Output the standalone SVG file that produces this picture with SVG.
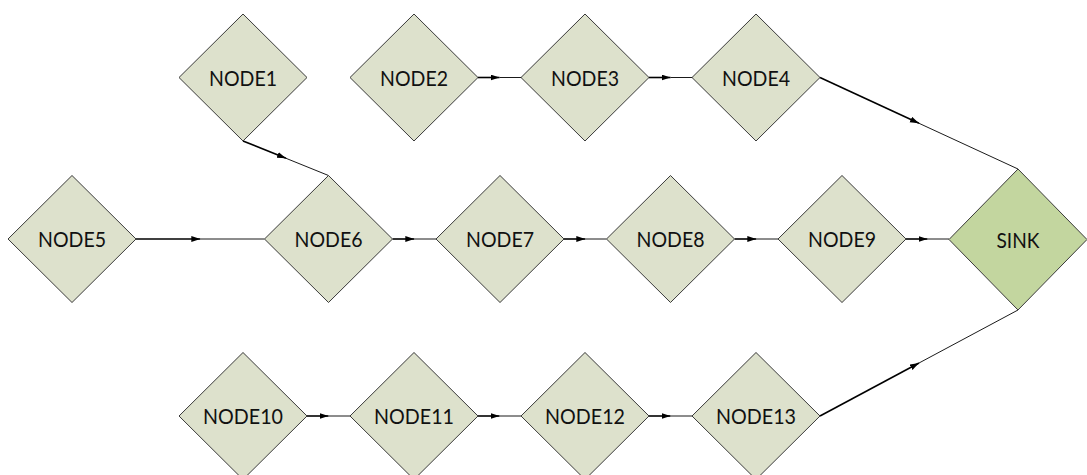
<svg xmlns="http://www.w3.org/2000/svg" xmlns:xlink="http://www.w3.org/1999/xlink" width="1087" height="475" viewBox="0 0 1087 475">
  <style>
    .node { fill: #dde1cc; stroke: #3a3a3a; stroke-width: 1; }
    .sink { fill: #c3d69f; stroke: #3a3a3a; stroke-width: 1; }
    .label { font-family: Lato, "Open Sans", "Liberation Sans", sans-serif; font-size: 21px; fill: #111; text-anchor: middle; }
    .head { fill: none; stroke: #000; stroke-width: 1.6; marker-end: url(#arrow); }
    .tail { fill: none; stroke: #000; stroke-width: 0.9; }
  </style>
  <defs>
    <!-- standard diamond, centred on the origin -->
    <polygon id="dia" points="0,-63.5 64,0 0,63.5 -64,0"/>
    <marker id="arrow" markerUnits="userSpaceOnUse" markerWidth="10" markerHeight="7" refX="9" refY="3" orient="auto">
      <path d="M0,0 L9,3 L0,6 z" fill="#000"/>
    </marker>
  </defs>
  <rect width="1087" height="475" fill="#fff"/>

  <!-- connectors: heavy first half ending in an arrowhead, light second half -->
  <g id="connectors">
    <!-- NODE1 -> NODE6 -->
    <line class="head" x1="243" y1="141" x2="286" y2="158.3"/>
    <line class="tail" x1="286" y1="158.3" x2="328.5" y2="175.5"/>
    <!-- NODE2 -> NODE3 -->
    <line class="head" x1="478" y1="77.5" x2="499.5" y2="77.5"/>
    <line class="tail" x1="499.5" y1="77.5" x2="521" y2="77.5"/>
    <!-- NODE3 -> NODE4 -->
    <line class="head" x1="649" y1="77.5" x2="670.5" y2="77.5"/>
    <line class="tail" x1="670.5" y1="77.5" x2="692" y2="77.5"/>
    <!-- NODE4 -> SINK -->
    <line class="head" x1="820" y1="77.5" x2="919" y2="123.3"/>
    <line class="tail" x1="919" y1="123.3" x2="1018" y2="169"/>
    <!-- NODE5 -> NODE6 -->
    <line class="head" x1="136" y1="239" x2="200.3" y2="239"/>
    <line class="tail" x1="200.3" y1="239" x2="264.5" y2="239"/>
    <!-- NODE6 -> NODE7 -->
    <line class="head" x1="392.5" y1="239" x2="414.3" y2="239"/>
    <line class="tail" x1="414.3" y1="239" x2="436" y2="239"/>
    <!-- NODE7 -> NODE8 -->
    <line class="head" x1="564" y1="239" x2="585.3" y2="239"/>
    <line class="tail" x1="585.3" y1="239" x2="606.5" y2="239"/>
    <!-- NODE8 -> NODE9 -->
    <line class="head" x1="734.5" y1="239" x2="756.3" y2="239"/>
    <line class="tail" x1="756.3" y1="239" x2="778" y2="239"/>
    <!-- NODE9 -> SINK -->
    <line class="head" x1="906" y1="239" x2="927.5" y2="239"/>
    <line class="tail" x1="927.5" y1="239" x2="949" y2="239"/>
    <!-- NODE10 -> NODE11 -->
    <line class="head" x1="307" y1="416" x2="328.5" y2="416"/>
    <line class="tail" x1="328.5" y1="416" x2="350" y2="416"/>
    <!-- NODE11 -> NODE12 -->
    <line class="head" x1="478" y1="416" x2="499.5" y2="416"/>
    <line class="tail" x1="499.5" y1="416" x2="521" y2="416"/>
    <!-- NODE12 -> NODE13 -->
    <line class="head" x1="649" y1="416" x2="670.5" y2="416"/>
    <line class="tail" x1="670.5" y1="416" x2="692" y2="416"/>
    <!-- NODE13 -> SINK -->
    <line class="head" x1="820" y1="416" x2="919" y2="363"/>
    <line class="tail" x1="919" y1="363" x2="1018" y2="310"/>
  </g>

  <g id="node1" transform="translate(243,77.5)"><use xlink:href="#dia" class="node"/><text class="label" y="8" textLength="68" lengthAdjust="spacingAndGlyphs">NODE1</text></g>
  <g id="node2" transform="translate(414,77.5)"><use xlink:href="#dia" class="node"/><text class="label" y="8" textLength="68" lengthAdjust="spacingAndGlyphs">NODE2</text></g>
  <g id="node3" transform="translate(585,77.5)"><use xlink:href="#dia" class="node"/><text class="label" y="8" textLength="68" lengthAdjust="spacingAndGlyphs">NODE3</text></g>
  <g id="node4" transform="translate(756,77.5)"><use xlink:href="#dia" class="node"/><text class="label" y="8" textLength="68" lengthAdjust="spacingAndGlyphs">NODE4</text></g>
  <g id="node5" transform="translate(72,239)"><use xlink:href="#dia" class="node"/><text class="label" y="8" textLength="68" lengthAdjust="spacingAndGlyphs">NODE5</text></g>
  <g id="node6" transform="translate(328.5,239)"><use xlink:href="#dia" class="node"/><text class="label" y="8" textLength="68" lengthAdjust="spacingAndGlyphs">NODE6</text></g>
  <g id="node7" transform="translate(500,239)"><use xlink:href="#dia" class="node"/><text class="label" y="8" textLength="68" lengthAdjust="spacingAndGlyphs">NODE7</text></g>
  <g id="node8" transform="translate(670.5,239)"><use xlink:href="#dia" class="node"/><text class="label" y="8" textLength="68" lengthAdjust="spacingAndGlyphs">NODE8</text></g>
  <g id="node9" transform="translate(842,239)"><use xlink:href="#dia" class="node"/><text class="label" y="8" textLength="68" lengthAdjust="spacingAndGlyphs">NODE9</text></g>
  <g id="sink" transform="translate(1018,239.5)"><polygon class="sink" points="0,-70.5 69,0 0,70.5 -69,0"/><text class="label" y="8" textLength="43" lengthAdjust="spacingAndGlyphs">SINK</text></g>
  <g id="node10" transform="translate(243,416)"><use xlink:href="#dia" class="node"/><text class="label" y="8" textLength="80" lengthAdjust="spacingAndGlyphs">NODE10</text></g>
  <g id="node11" transform="translate(414,416)"><use xlink:href="#dia" class="node"/><text class="label" y="8" textLength="80" lengthAdjust="spacingAndGlyphs">NODE11</text></g>
  <g id="node12" transform="translate(585,416)"><use xlink:href="#dia" class="node"/><text class="label" y="8" textLength="80" lengthAdjust="spacingAndGlyphs">NODE12</text></g>
  <g id="node13" transform="translate(756,416)"><use xlink:href="#dia" class="node"/><text class="label" y="8" textLength="80" lengthAdjust="spacingAndGlyphs">NODE13</text></g>
</svg>
